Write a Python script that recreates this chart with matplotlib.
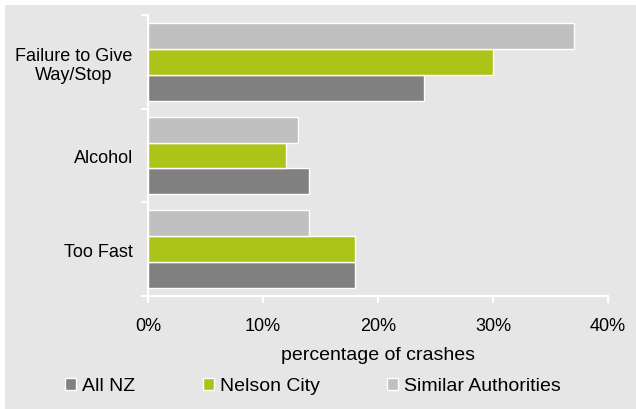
import matplotlib
matplotlib.use("Agg")
import matplotlib.pyplot as plt
from matplotlib.patches import Rectangle
import numpy as np

plt.rcParams['font.family'] = ['Liberation Sans', 'DejaVu Sans']

categories = ['Too Fast', 'Alcohol', 'Failure to Give\nWay/Stop']
all_nz = [18, 14, 24]
nelson = [18, 12, 30]
similar = [14, 13, 37]
series_names = ['All NZ', 'Nelson City', 'Similar Authorities']
colors = ['#808080', '#acc418', '#c0c0c0']
xticks = [0, 10, 20, 30, 40]

fig = plt.figure(figsize=(6.36, 4.10), dpi=100, facecolor='white')
bg = Rectangle((5 / 636, 0), 1, 1 - 6 / 410, transform=fig.transFigure,
               facecolor='#e6e6e6', edgecolor='none', zorder=-10)
fig.patches.append(bg)

ax = fig.add_axes([148 / 636, 1 - 297 / 410, 460 / 636, 281 / 410])
ax.set_facecolor('#e6e6e6')

y = np.arange(len(categories))
h = 0.277
bars = []
for i, (vals, c, name) in enumerate(zip([all_nz, nelson, similar], colors, series_names)):
    b = ax.barh(y + (i - 1) * h, vals, height=h, color=c, edgecolor='white',
                linewidth=1, label=name)
    bars.append(b)

ax.set_xlim(0, 40)
ax.set_ylim(-0.5, 2.5)
ax.set_xticks(xticks)
ax.set_xticklabels([f'{t}%' for t in xticks])
ax.set_yticks(y)
ax.set_yticklabels(categories, ha='right', multialignment='center')
ax.set_yticks([-0.5, 0.5, 1.5, 2.5], minor=True)
ax.tick_params(axis='y', which='major', length=0, width=0, pad=11, labelsize=13)
ax.tick_params(axis='y', which='minor', length=5, width=1.5, color='white',
               direction='out')
ax.tick_params(axis='x', length=5, width=1.5, color='white', labelsize=13, pad=10)

for s in ['top', 'right']:
    ax.spines[s].set_visible(False)
for s in ['left', 'bottom']:
    ax.spines[s].set_color('white')
    ax.spines[s].set_linewidth(1.5)

ax.set_xlabel('percentage of crashes', fontsize=14, labelpad=9)

leg_x = [65, 203, 387]
for b, name, lx in zip(bars, series_names, leg_x):
    lg = fig.legend([b], [name], loc='center left',
                    bbox_to_anchor=(lx / 636, 1 - 387 / 410),
                    frameon=False, fontsize=14, handlelength=0.58,
                    handleheight=0.58, handletextpad=0.32,
                    borderpad=0, borderaxespad=0)

fig.savefig('out.png', dpi=100, facecolor=fig.get_facecolor())
